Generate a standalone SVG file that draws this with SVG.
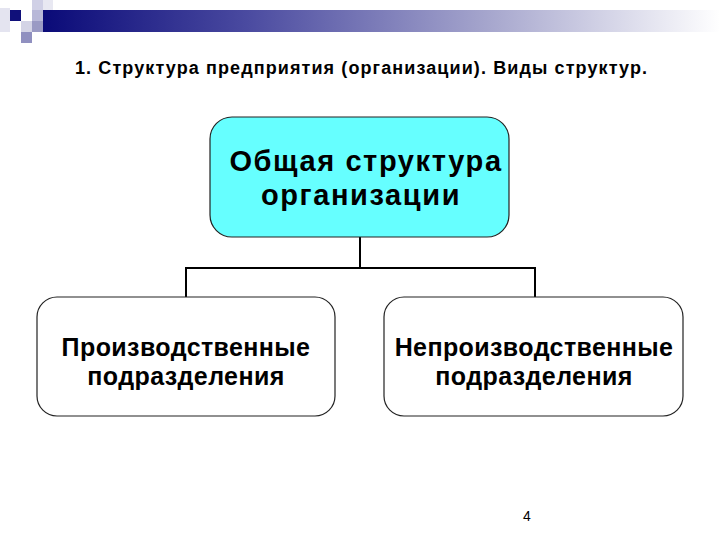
<svg xmlns="http://www.w3.org/2000/svg" width="720" height="540" viewBox="0 0 720 540">
<defs>
<linearGradient id="bar" x1="0" y1="0" x2="1" y2="0">
<stop offset="0" stop-color="#0a0a78"/>
<stop offset="0.3" stop-color="#4a4aa0"/>
<stop offset="0.65" stop-color="#a4a4cc"/>
<stop offset="1" stop-color="#ffffff"/>
</linearGradient>
<style>
.box{stroke:#222;stroke-width:1.2}
.t{font-family:"Liberation Sans",Arial,sans-serif;font-weight:bold;fill:#000;text-anchor:middle}
.big{font-size:29px;letter-spacing:1.6px}
.mid{font-size:25px;letter-spacing:0.4px}
.c{fill:none;stroke:#000;stroke-width:2}
</style>
</defs>
<rect width="720" height="540" fill="#fff"/>
<g id="decor">
<rect x="43" y="10" width="677" height="22" fill="url(#bar)"/>
<rect x="0" y="8" width="10" height="24" fill="#e4e4f0"/>
<rect x="10" y="10" width="11" height="11" fill="#10107a"/>
<rect x="32" y="0" width="11" height="10" fill="#d0d0e6"/>
<rect x="32" y="10" width="11" height="11" fill="#b8b8d8"/>
<rect x="43" y="0" width="10" height="10" fill="#e8e8f2"/>
<rect x="21" y="21" width="11" height="11" fill="#d4d4e6"/>
<rect x="32" y="21" width="11" height="11" fill="#9a9ac4"/>
<rect x="21" y="32" width="11" height="11" fill="#9090c0"/>
</g>
<text class="t" x="361" y="74" font-size="18" textLength="572" lengthAdjust="spacing">1. Структура предприятия (организации). Виды структур.</text>
<g id="connectors">
<path class="c" d="M360,237 V268 M186,268 H535 M186,267 V298 M535,267 V298"/>
</g>
<g id="top">
<rect class="box" x="210" y="117" width="299" height="120" rx="22" fill="#66ffff"/>
<text class="t big" x="366" y="171">Общая структура</text>
<text class="t big" x="361" y="205">организации</text>
</g>
<g id="left">
<rect class="box" x="37" y="297" width="298" height="119" rx="20" fill="#fff"/>
<text class="t mid" x="186" y="356">Производственные</text>
<text class="t mid" x="186" y="385">подразделения</text>
</g>
<g id="right">
<rect class="box" x="384" y="297" width="299" height="119" rx="20" fill="#fff"/>
<text class="t mid" x="534" y="356">Непроизводственные</text>
<text class="t mid" x="534" y="385">подразделения</text>
</g>
<text x="527" y="521" font-family="Liberation Sans,Arial,sans-serif" font-size="14" text-anchor="middle" fill="#000">4</text>
</svg>
